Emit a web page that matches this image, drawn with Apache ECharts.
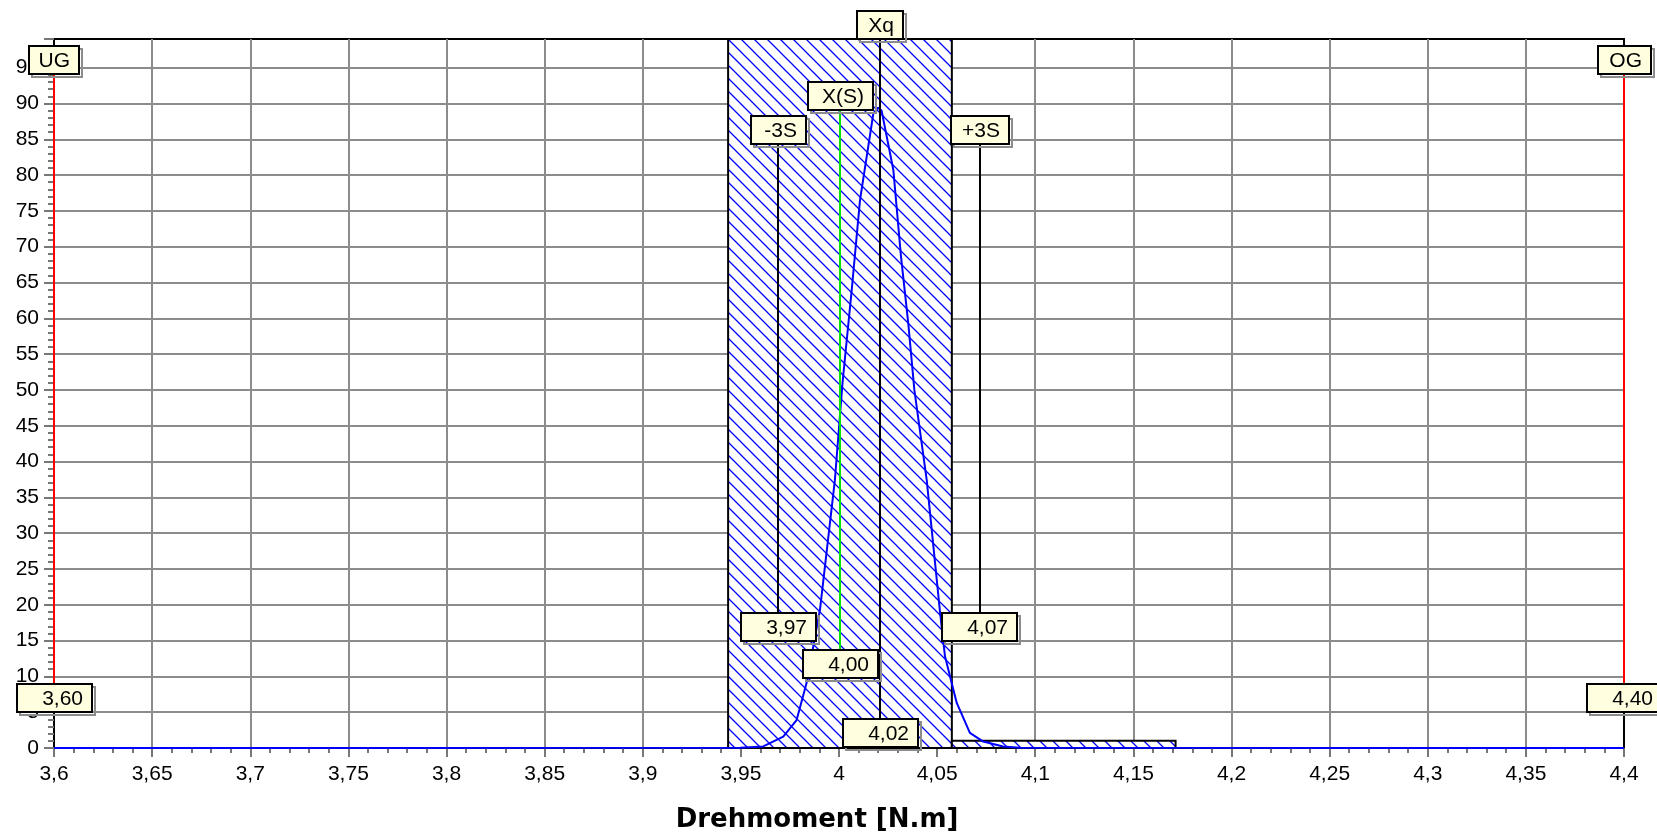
<!DOCTYPE html>
<html>
<head>
<meta charset="utf-8">
<title>Drehmoment</title>
<script src="https://cdn.jsdelivr.net/npm/echarts@6/dist/echarts.min.js"></script>
<style>
  html, body { margin: 0; padding: 0; background: #fff; }
  #chart { width: 1657px; height: 837px; }
</style>
</head>
<body>
<div id="chart"></div>
<script>
// histogram classes
const binStart = [3.9435, 4.0575];
const binEnd = [4.0575, 4.1715];
const binCount = [99, 1];

// normal curve
const curveX = [3.6, 3.9496, 3.9614, 3.9716, 3.9784, 3.9835, 3.9903, 3.9979, 4.0018, 4.0065, 4.0107, 4.0175, 4.0199,
  4.0217, 4.0277, 4.0316, 4.0353, 4.0384, 4.0447, 4.0515, 4.054, 4.06, 4.0667, 4.0735, 4.0836, 4.0922, 4.4];
const curveY = [0, 0.04, 0.22, 1.6, 3.9, 9.1, 19.3, 37.4, 51, 64, 76.5, 88.6, 89.4,
  89, 80.7, 68.6, 59.3, 50, 37.4, 18.9, 12.8, 6.3, 2.1, 0.9, 0.2, 0.04, 0];

// limits and statistics
const markNames = ['UG', 'OG', '-3S', 'X(S)', 'Xq', '+3S'];
const markValues = [3.6, 4.4, 3.969, 4.0006, 4.0209, 4.0718];

// axis
const xMin = 3.6, xMax = 4.4, xStep = 0.05;
const yMin = 0, yMax = 99, yStep = 5;

const font = 'Liberation Sans, Arial, sans-serif';
const boxFont = '21px "Liberation Sans", Arial, sans-serif';

// where the marker boxes sit (y units), box widths and line colours
const markLook = [
  { color: '#ff0000', top: 96.1, bottom: 7.0, w: 52 },
  { color: '#ff0000', top: 96.1, bottom: 7.0, w: 55 },
  { color: '#000000', top: 86.3, bottom: 16.85, w: 57 },
  { color: '#00e600', top: 91.0, bottom: 11.76, w: 67 },
  { color: '#000000', top: 101, bottom: 2.13, w: 48 },
  { color: '#000000', top: 86.3, bottom: 16.85, w: 60 }
];
const numBoxW = 77;

const fmt2 = v => v.toFixed(2).replace('.', ',');
const fmtTick = v => String(parseFloat(v.toFixed(2))).replace('.', ',');

function hatch() {
  const n = 13;
  const c = document.createElement('canvas');
  c.width = n; c.height = n;
  const g = c.getContext('2d');
  g.fillStyle = '#fff';
  g.fillRect(0, 0, n, n);
  g.strokeStyle = '#0000ff';
  g.lineWidth = 1.3;
  g.beginPath();
  g.moveTo(-1, -1); g.lineTo(n + 1, n + 1);
  g.moveTo(-1, n - 1); g.lineTo(1, n + 1);
  g.moveTo(n - 1, -1); g.lineTo(n + 1, 1);
  g.stroke();
  return c;
}
const hatchFill = { image: hatch(), repeat: 'repeat' };

const boxes = [];
const lineData = [];
markNames.forEach((name, i) => {
  const s = markLook[i];
  boxes.push({ x: markValues[i], y: s.top, text: name, w: s.w });
  boxes.push({ x: markValues[i], y: s.bottom, text: fmt2(markValues[i]), w: numBoxW });
  lineData.push([
    { coord: [markValues[i], Math.min(s.top, yMax)], lineStyle: { color: s.color, width: 2, type: 'solid' } },
    { coord: [markValues[i], s.bottom] }
  ]);
});

const chart = echarts.init(document.getElementById('chart'));
chart.setOption({
  animation: false,
  grid: {
    left: 54, right: 33, top: 39, bottom: 89,
    show: true, borderColor: '#000', borderWidth: 2, backgroundColor: 'transparent'
  },
  xAxis: {
    type: 'value', min: xMin, max: xMax, interval: xStep,
    axisLine: { show: true, onZero: false, lineStyle: { color: '#000', width: 2 } },
    axisTick: { show: true, length: 9, lineStyle: { color: '#777', width: 2 } },
    minorTick: { show: true, splitNumber: 5, length: 5, lineStyle: { color: '#777', width: 2 } },
    axisLabel: { fontSize: 21, margin: 16, color: '#000', fontFamily: font, formatter: fmtTick },
    splitLine: { show: true, showMinLine: false, showMaxLine: false, lineStyle: { color: '#8c8c8c', width: 2 } }
  },
  yAxis: {
    type: 'value', min: yMin, max: yMax, interval: yStep,
    axisLine: { show: true, lineStyle: { color: '#000', width: 2 } },
    axisTick: { show: true, length: 10, lineStyle: { color: '#777', width: 2 } },
    minorTick: { show: true, splitNumber: 5, length: 6, lineStyle: { color: '#777', width: 2 } },
    axisLabel: {
      fontSize: 21, margin: 15, color: '#000', fontFamily: font, showMaxLabel: false,
      formatter: v => (v % yStep === 0 ? String(v) : '')
    },
    splitLine: { show: true, showMinLine: false, showMaxLine: false, lineStyle: { color: '#8c8c8c', width: 2 } }
  },
  graphic: [{
    type: 'text', x: 817, y: 820, z: 10,
    style: {
      text: 'Drehmoment [N.m]', fill: '#000', font: 'bold 26px "DejaVu Sans", sans-serif',
      textAlign: 'center', textVerticalAlign: 'middle'
    }
  }],
  series: [
    {
      type: 'custom',
      z: 2,
      data: binCount.map((c, i) => [binStart[i], binEnd[i], c]),
      encode: { x: [0, 1], y: 2 },
      renderItem: (params, api) => {
        const p0 = api.coord([api.value(0), api.value(2)]);
        const p1 = api.coord([api.value(1), 0]);
        return {
          type: 'rect',
          shape: { x: p0[0], y: p0[1], width: p1[0] - p0[0], height: p1[1] - p0[1] },
          style: { fill: hatchFill, stroke: '#000', lineWidth: 2 }
        };
      }
    },
    {
      type: 'line',
      z: 3,
      data: curveX.map((x, i) => [x, curveY[i]]),
      showSymbol: false,
      symbol: 'none',
      lineStyle: { color: '#0000ff', width: 2 }
    },
    {
      type: 'line',
      z: 4,
      data: [],
      markLine: {
        silent: true,
        symbol: 'none',
        label: { show: false },
        data: lineData
      }
    },
    {
      type: 'custom',
      z: 5,
      clip: false,
      data: boxes.map(b => [b.x, b.y]),
      encode: { x: 0, y: 1 },
      renderItem: (params, api) => {
        const b = boxes[params.dataIndex];
        const p = api.coord([api.value(0), api.value(1)]);
        const w = b.w - 2, h = 28;
        const x = Math.round(p[0] - w / 2), y = Math.round(p[1] - h / 2);
        return {
          type: 'group',
          children: [
            { type: 'rect', shape: { x: x + 3, y: y + 3, width: w, height: h },
              style: { fill: 'none', stroke: '#8c8c8c', lineWidth: 2 } },
            { type: 'rect', shape: { x: x, y: y, width: w, height: h },
              style: { fill: '#ffffe0', stroke: '#000', lineWidth: 2 } },
            { type: 'text', x: x + w - 9, y: y + h / 2 + 1,
              style: { text: b.text, font: boxFont, fill: '#000', textAlign: 'right', textVerticalAlign: 'middle' } }
          ]
        };
      }
    }
  ]
});
</script>
</body>
</html>
